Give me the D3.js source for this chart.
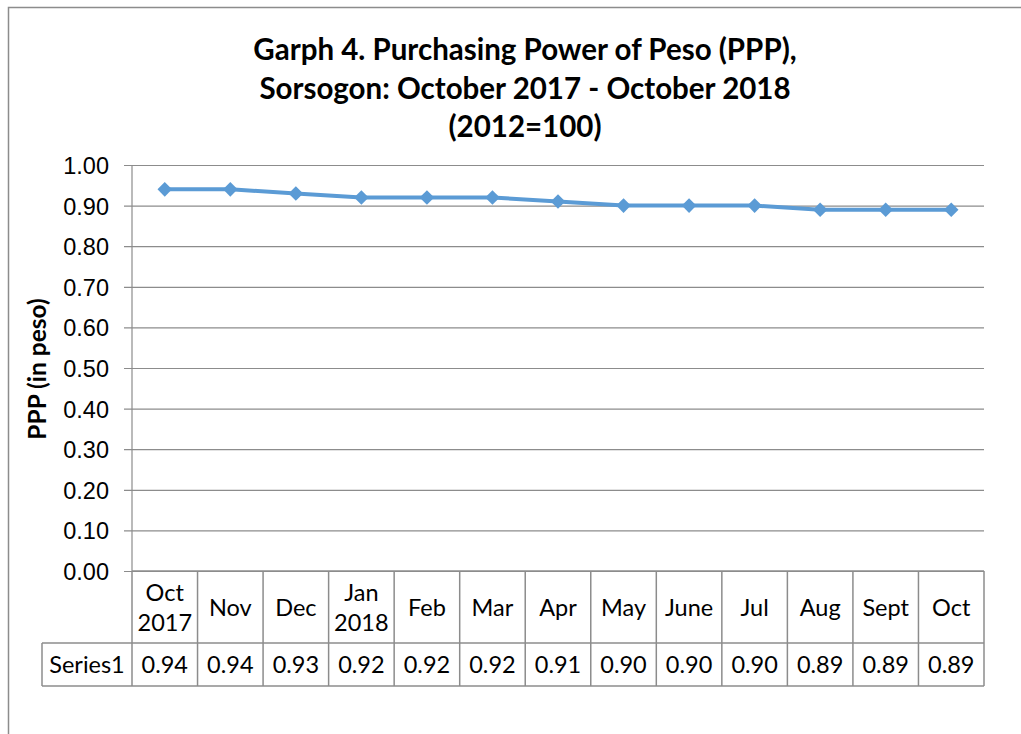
<!DOCTYPE html>
<html>
  <head>
    <meta charset="utf-8">
    <title>Purchasing Power of Peso, Sorsogon</title>
    <style type="text/css">
     html, body {
       margin: 0;
       padding: 0;
       background: #fff;
     }
     svg {
       display: block;
       font-family: Lato, "Noto Sans", sans-serif;
     }
     .grid line {
       stroke: #8c8c8c;
       stroke-width: 1.2px;
     }
     .grid path {
       display: none;
     }
     .grid text {
       font-size: 23.5px;
       fill: #000;
     }
     .table line {
       stroke: #8c8c8c;
       stroke-width: 1.5px;
     }
     .table text {
       font-size: 23.5px;
       fill: #000;
     }
    </style>
  </head>
  <body>
    <svg width="1021" height="734"></svg>
    <script src="https://cdn.jsdelivr.net/npm/d3@7"></script>
    <script>
     var months = ["Oct|2017", "Nov", "Dec", "Jan|2018", "Feb", "Mar", "Apr",
                   "May", "June", "Jul", "Aug", "Sept", "Oct"];
     var ppp = [0.94, 0.94, 0.93, 0.92, 0.92, 0.92, 0.91,
                0.90, 0.90, 0.90, 0.89, 0.89, 0.89];
     var yTicks = [0, 0.1, 0.2, 0.3, 0.4, 0.5, 0.6, 0.7, 0.8, 0.9, 1.0];
     var titleLines = ["Garph 4. Purchasing Power of Peso (PPP),",
                       "Sorsogon: October 2017 - October 2018",
                       "(2012=100)"];
     var seriesName = "Series1";

     var svg = d3.select("svg");

     // plot box (window.top is reserved, hence plotTop)
     var plotLeft = 132, plotRight = 984, plotTop = 165, plotBottom = 571;
     var row1 = 643, row2 = 686, tableLeft = 42;

     // outer chart border (runs off the right and bottom edges)
     svg.append("rect")
        .attr("x", 8.5).attr("y", 7.5)
        .attr("width", 1100).attr("height", 800)
        .attr("fill", "none")
        .attr("stroke", "#8c8c8c")
        .attr("stroke-width", 1.5);

     var x = d3.scaleBand()
               .domain(d3.range(months.length))
               .range([plotLeft, plotRight]);

     var y = d3.scaleLinear()
               .domain([0, 1])
               .range([plotBottom, plotTop]);

     // title
     svg.append("g")
        .selectAll("text")
        .data(titleLines)
        .enter().append("text")
        .attr("x", 525)
        .attr("y", (d, i) => 60 + i * 38.5)
        .attr("text-anchor", "middle")
        .attr("font-size", "29.5px")
        .attr("font-weight", "bold")
        .text(d => d);

     // y axis with gridlines
     var grid = svg.append("g")
                   .attr("class", "grid")
                   .attr("transform", `translate(${plotLeft},0)`)
                   .call(d3.axisLeft(y)
                           .tickValues(yTicks)
                           .tickFormat(d3.format(".2f"))
                           .tickSize(-(plotRight - plotLeft))
                           .tickPadding(23));

     grid.selectAll(".tick line").attr("x1", -8);
     grid.selectAll(".tick text").attr("dy", "0.36em");

     svg.append("line")
        .attr("x1", plotLeft).attr("x2", plotLeft)
        .attr("y1", plotTop).attr("y2", plotBottom)
        .attr("stroke", "#8c8c8c")
        .attr("stroke-width", 1.2);

     svg.append("text")
        .attr("transform", "translate(46,369) rotate(-90)")
        .attr("text-anchor", "middle")
        .attr("font-size", "24.5px")
        .attr("font-weight", "bold")
        .text("PPP (in peso)");

     // data table below the plot
     var table = svg.append("g").attr("class", "table");

     var bounds = x.domain().map(i => x(i)).concat([plotRight]);

     table.selectAll("line.v")
          .data(bounds)
          .enter().append("line")
          .attr("class", "v")
          .attr("x1", d => d).attr("x2", d => d)
          .attr("y1", plotBottom).attr("y2", row2);

     table.append("line")
          .attr("x1", tableLeft).attr("x2", tableLeft)
          .attr("y1", row1).attr("y2", row2);

     [row1, row2].forEach(function (r) {
       table.append("line")
            .attr("x1", tableLeft).attr("x2", plotRight)
            .attr("y1", r).attr("y2", r);
     });

     table.append("line")
          .attr("x1", plotLeft).attr("x2", plotRight)
          .attr("y1", plotBottom).attr("y2", plotBottom);

     var heads = table.selectAll("text.head")
                      .data(months)
                      .enter().append("text")
                      .attr("class", "head")
                      .attr("text-anchor", "middle");

     heads.each(function (d, i) {
       var parts = d.split("|");
       var cx = x(i) + x.bandwidth() / 2;
       var t = d3.select(this);
       parts.forEach(function (p, j) {
         t.append("tspan")
          .attr("x", cx)
          .attr("y", parts.length == 1 ? 616 : 601 + j * 30)
          .text(p);
       });
     });

     table.selectAll("text.val")
          .data(ppp)
          .enter().append("text")
          .attr("class", "val")
          .attr("text-anchor", "middle")
          .attr("x", (d, i) => x(i) + x.bandwidth() / 2)
          .attr("y", 673)
          .text(d => d.toFixed(2));

     table.append("text")
          .attr("text-anchor", "middle")
          .attr("x", (tableLeft + plotLeft) / 2)
          .attr("y", 673)
          .text(seriesName);

     // line and diamond markers
     var cxOf = (d, i) => x(i) + x.bandwidth() / 2;

     svg.append("path")
        .datum(ppp)
        .attr("fill", "none")
        .attr("stroke", "#5b9bd5")
        .attr("stroke-width", 4)
        .attr("stroke-linejoin", "round")
        .attr("d", d3.line().x(cxOf).y(d => y(d)));

     svg.append("g")
        .selectAll("path")
        .data(ppp)
        .enter().append("path")
        .attr("fill", "#5b9bd5")
        .attr("transform", (d, i) => `translate(${cxOf(d, i)},${y(d)})`)
        .attr("d", d3.symbol().type(d3.symbolDiamond2).size(135));
    </script>
  </body>
</html>
